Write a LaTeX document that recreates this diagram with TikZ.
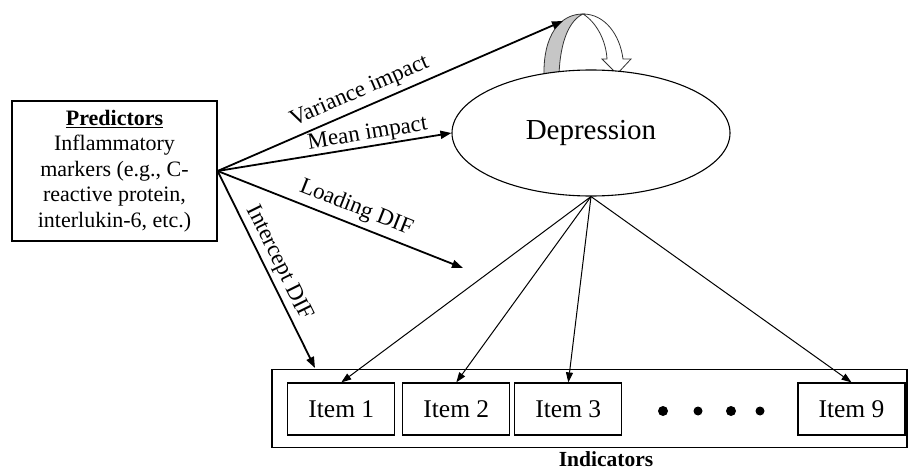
\documentclass[tikz,border=0pt]{standalone}
\usepackage{fontspec}
\setmainfont{Liberation Serif}
\usetikzlibrary{arrows.meta,shapes.geometric}
\begin{document}
\begin{tikzpicture}[x=1pt,y=-1pt,
  thickarr/.style={line width=1.8pt,-{Triangle[length=11pt,width=8pt]}},
  thinarr/.style={line width=1pt,-{Triangle[length=10pt,width=7pt]}},
  lbl/.style={sloped,anchor=base,inner sep=0pt,font=\fontsize{23}{27}\selectfont},
  itembox/.style={draw,line width=1.2pt,minimum width=107pt,minimum height=52pt,inner sep=0pt,font=\fontsize{25.5}{30}\selectfont},
  loopgray/.style={fill=gray!45,draw=black!80,line width=0.8pt},
  loopwhite/.style={fill=white,draw=black!80,line width=0.8pt},
  dot/.style={circle,fill=black,inner sep=0pt,minimum size=10pt}]
\useasboundingbox (0,0) rectangle (908,468);

% self loop (variance)
\path[loopgray] (544,76) .. controls (543,35) and (560,14) .. (583,14)
  .. controls (570,20) and (560,40) .. (559,76) -- cycle;
\path[loopwhite] (583,14) .. controls (605,14) and (620,35) .. (623,59)
  -- (631,59) -- (617,74) -- (602,59) -- (607,59)
  .. controls (606,40) and (596,22) .. (583,14) -- cycle;

% nodes
\node[draw,line width=1.2pt,minimum width=205pt,minimum height=140pt,align=center,inner sep=0pt,
  font=\fontsize{22}{25.5}\selectfont] (pred) at (114.5,171)
  {\underline{\textbf{Predictors}}\\Inflammatory\\markers (e.g., C-\\reactive protein,\\interlukin-6, etc.)};
\node[ellipse,draw,fill=white,line width=1.1pt,minimum width=278pt,minimum height=126pt,inner sep=0pt,
  font=\fontsize{29}{34}\selectfont] (dep) at (591,133) {Depression};

\node[draw,line width=1.2pt,minimum width=635pt,minimum height=78pt,inner sep=0pt] (ind) at (589.5,408.8) {};
\node[font=\fontsize{21.5}{25}\selectfont\bfseries,inner sep=0pt,anchor=base] (indlbl) at (606,466.3) {Indicators};

\node[itembox] (i1) at (341.3,409) {Item 1};
\node[itembox] (i2) at (456.3,409) {Item 2};
\node[itembox] (i3) at (568.3,409) {Item 3};
\node[itembox] (i9) at (851.5,409) {Item 9};

\node[dot] (d1) at (663,411) {};
\node[dot,minimum size=9pt] (d2) at (698,411) {};
\node[dot] (d3) at (731,411) {};
\node[dot,minimum size=9pt] (d4) at (760,411) {};

\coordinate (varend) at (563,21);
\coordinate (loadend) at (463,268);
\coordinate (intend) at (315,368);

% predictor arrows
\draw[thickarr] (pred.east) -- node[lbl,pos=0.43,yshift=11pt] {Variance impact} (varend);
\draw[thickarr] (pred.east) -- node[lbl,pos=0.65,yshift=7pt] {Mean impact} (dep.west);
\draw[thickarr] (pred.east) -- node[lbl,pos=0.54,yshift=11pt] {Loading DIF} (loadend);
\draw[thickarr] (pred.east) -- node[lbl,pos=0.5,yshift=9pt] {Intercept DIF} (intend);

% loadings
\draw[thinarr] (dep.south) -- (i1.north);
\draw[thinarr] (dep.south) -- (i2.north);
\draw[thinarr] (dep.south) -- (i3.north);
\draw[thinarr] (dep.south) -- (i9.north);
\end{tikzpicture}
\end{document}
